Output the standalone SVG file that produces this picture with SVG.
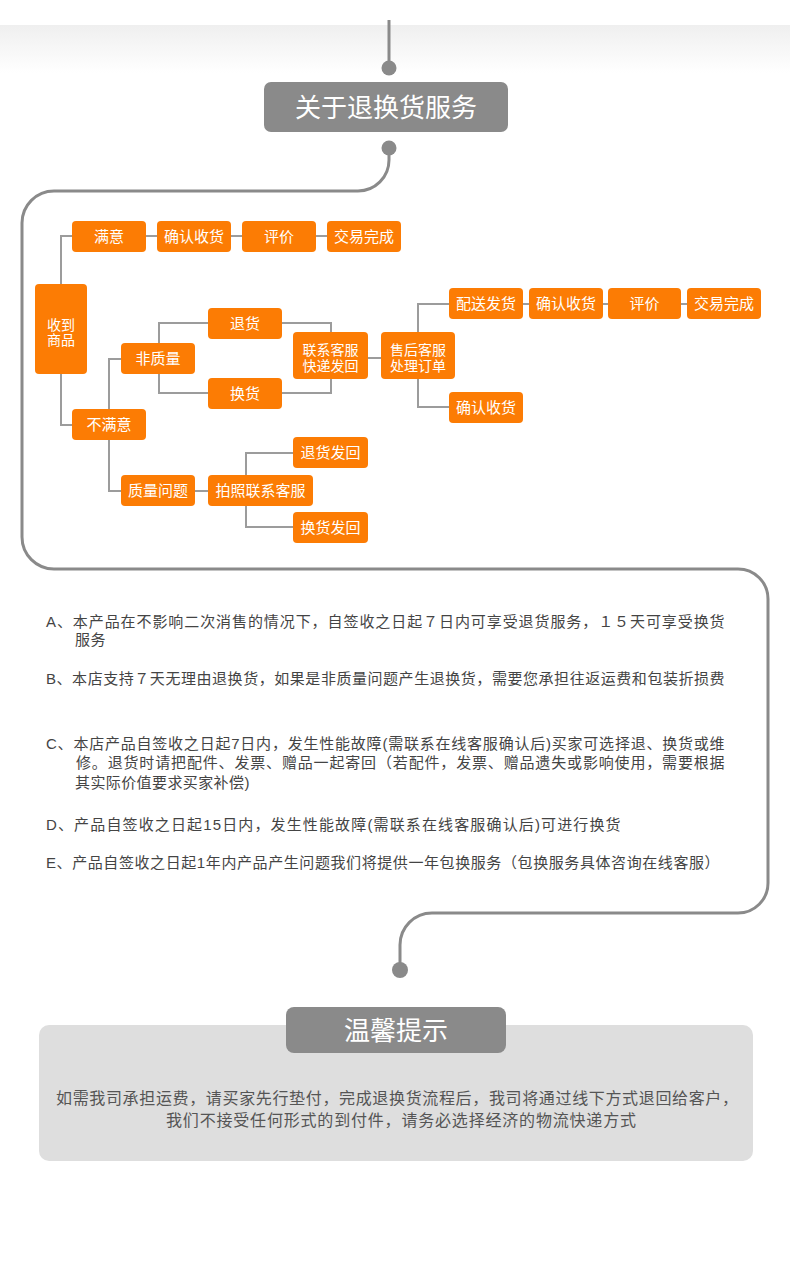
<svg xmlns="http://www.w3.org/2000/svg" width="790" height="1281" viewBox="0 0 790 1281">
<defs>
<linearGradient id="topband" x1="0" y1="0" x2="0" y2="1">
<stop offset="0" stop-color="#efefef"/>
<stop offset="1" stop-color="#ffffff"/>
</linearGradient>
<style>
.node rect{fill:#fc7c04;}
.node text{fill:#ffffff;font-family:"Liberation Sans","Noto Sans CJK SC",sans-serif;font-size:15px;text-anchor:middle;}
.node text.two{font-size:14px;}
.conn path{fill:none;stroke:#9c9c9c;stroke-width:2;}
.frame{fill:none;stroke:#8a8a8a;stroke-width:3;}
.dot{fill:#8a8a8a;}
.head rect{fill:#8a8a8a;}
.head text{fill:#ffffff;font-family:"Liberation Sans","Noto Sans CJK SC",sans-serif;font-size:26px;text-anchor:middle;}
.rule{fill:#444444;font-family:"Liberation Sans","Noto Sans CJK SC",sans-serif;font-size:15px;letter-spacing:0.4px;}
.tip{fill:#555555;font-family:"Liberation Sans","Noto Sans CJK SC",sans-serif;font-size:16px;}
</style>
</defs>
<rect x="0" y="0" width="790" height="1281" fill="#ffffff"/>
<rect x="0" y="25" width="790" height="48" fill="url(#topband)"/>

<!-- top connector and frame -->
<line x1="389" y1="20" x2="389" y2="62" stroke="#8a8a8a" stroke-width="3"/>
<circle class="dot" cx="389" cy="68" r="7.5"/>
<g id="title" class="head">
<rect x="264" y="82" width="244" height="50" rx="7"/>
<text x="386" y="117" font-size="27px">关于退换货服务</text>
</g>
<circle class="dot" cx="389" cy="148" r="7.5"/>
<path class="frame" d="M389,150 L389,160 A31,31 0 0 1 358,191 L54,191 A32,32 0 0 0 22,223 L22,537 A32,32 0 0 0 54,569 L738,569 A30,30 0 0 1 768,599 L768,883 A30,30 0 0 1 738,913 L432,913 A32,32 0 0 0 400,945 L400,965"/>
<circle class="dot" cx="400" cy="970" r="8"/>

<!-- connectors -->
<g id="connectors" class="conn">
<path d="M61,284 V236 H72"/>
<path d="M146,236 H157"/>
<path d="M231,236 H242"/>
<path d="M316,236 H327"/>
<path d="M61,374 V425 H72"/>
<path d="M109,409 V359 H121"/>
<path d="M109,440 V491 H121"/>
<path d="M159,343 V323 H208"/>
<path d="M159,374 V393 H208"/>
<path d="M282,323 H331 V332"/>
<path d="M282,393 H331 V379"/>
<path d="M368,358 H381"/>
<path d="M418,332 V304 H449"/>
<path d="M523,304 H529"/>
<path d="M603,304 H608"/>
<path d="M681,304 H687"/>
<path d="M418,379 V407 H449"/>
<path d="M195,491 H208"/>
<path d="M246,475 V453 H293"/>
<path d="M246,506 V527 H293"/>
</g>

<!-- nodes -->
<g id="n-manyi" class="node"><rect x="72" y="221" width="74" height="31" rx="4"/><text x="109" y="242">满意</text></g>
<g id="n-queren1" class="node"><rect x="157" y="221" width="74" height="31" rx="4"/><text x="194" y="242">确认收货</text></g>
<g id="n-pingjia1" class="node"><rect x="242" y="221" width="74" height="31" rx="4"/><text x="279" y="242">评价</text></g>
<g id="n-wancheng1" class="node"><rect x="327" y="221" width="74" height="31" rx="4"/><text x="364" y="242">交易完成</text></g>
<g id="n-shoudao" class="node"><rect x="35" y="284" width="52" height="90" rx="4"/><text class="two" x="61" y="329.5">收到</text><text class="two" x="61" y="345">商品</text></g>
<g id="n-feizhiliang" class="node"><rect x="121" y="343" width="74" height="31" rx="4"/><text x="158" y="364">非质量</text></g>
<g id="n-tuihuo" class="node"><rect x="208" y="308" width="74" height="31" rx="4"/><text x="245" y="329">退货</text></g>
<g id="n-huanhuo" class="node"><rect x="208" y="378" width="74" height="31" rx="4"/><text x="245" y="399">换货</text></g>
<g id="n-lianxi" class="node"><rect x="293" y="332" width="75" height="47" rx="4"/><text class="two" x="330.5" y="355">联系客服</text><text class="two" x="330.5" y="370.5">快递发回</text></g>
<g id="n-shouhou" class="node"><rect x="381" y="332" width="74" height="47" rx="4"/><text class="two" x="418" y="355">售后客服</text><text class="two" x="418" y="370.5">处理订单</text></g>
<g id="n-peisong" class="node"><rect x="449" y="288" width="74" height="31" rx="4"/><text x="486" y="309">配送发货</text></g>
<g id="n-queren2" class="node"><rect x="529" y="288" width="74" height="31" rx="4"/><text x="566" y="309">确认收货</text></g>
<g id="n-pingjia2" class="node"><rect x="608" y="288" width="73" height="31" rx="4"/><text x="644.5" y="309">评价</text></g>
<g id="n-wancheng2" class="node"><rect x="687" y="288" width="74" height="31" rx="4"/><text x="724" y="309">交易完成</text></g>
<g id="n-queren3" class="node"><rect x="449" y="392" width="74" height="31" rx="4"/><text x="486" y="413">确认收货</text></g>
<g id="n-bumanyi" class="node"><rect x="72" y="409" width="74" height="31" rx="4"/><text x="109" y="430">不满意</text></g>
<g id="n-zhiliang" class="node"><rect x="121" y="475" width="74" height="31" rx="4"/><text x="158" y="496">质量问题</text></g>
<g id="n-paizhao" class="node"><rect x="208" y="475" width="105" height="31" rx="4"/><text x="260.5" y="496">拍照联系客服</text></g>
<g id="n-tuihuofahui" class="node"><rect x="293" y="437" width="75" height="31" rx="4"/><text x="330.5" y="458">退货发回</text></g>
<g id="n-huanhuofahui" class="node"><rect x="293" y="512" width="75" height="31" rx="4"/><text x="330.5" y="533">换货发回</text></g>

<!-- rules text -->
<g id="rules">
<text class="rule" x="46" y="626.5" textLength="679" lengthAdjust="spacing">A、本产品在不影响二次消售的情况下，自签收之日起７日内可享受退货服务，１５天可享受换货</text>
<text class="rule" x="75" y="644.5">服务</text>
<text class="rule" x="46" y="683.5" textLength="679" lengthAdjust="spacing">B、本店支持７天无理由退换货，如果是非质量问题产生退换货，需要您承担往返运费和包装折损费</text>
<text class="rule" x="46" y="748.5" textLength="679" lengthAdjust="spacing">C、本店产品自签收之日起7日内，发生性能故障(需联系在线客服确认后)买家可选择退、换货或维</text>
<text class="rule" x="76" y="768" textLength="649" lengthAdjust="spacing">修。退货时请把配件、发票、赠品一起寄回（若配件，发票、赠品遗失或影响使用，需要根据</text>
<text class="rule" x="75" y="787.5">其实际价值要求买家补偿)</text>
<text class="rule" x="46" y="829.5" textLength="575" lengthAdjust="spacing">D、产品自签收之日起15日内，发生性能故障(需联系在线客服确认后)可进行换货</text>
<text class="rule" x="46" y="867.5" textLength="674" lengthAdjust="spacing">E、产品自签收之日起1年内产品产生问题我们将提供一年包换服务（包换服务具体咨询在线客服）</text>
</g>

<!-- warm tip -->
<g id="tipbox">
<rect x="39" y="1025" width="714" height="136" rx="10" fill="#dedede"/>
</g>
<g id="tiptitle" class="head">
<rect x="286" y="1007" width="220" height="46" rx="8"/>
<text x="396" y="1039.5">温馨提示</text>
</g>
<g id="tiptext">
<text class="tip" x="56" y="1103.5" textLength="682" lengthAdjust="spacing">如需我司承担运费，请买家先行垫付，完成退换货流程后，我司将通过线下方式退回给客户，</text>
<text class="tip" x="166" y="1125.5" textLength="470" lengthAdjust="spacing">我们不接受任何形式的到付件，请务必选择经济的物流快递方式</text>
</g>
</svg>
